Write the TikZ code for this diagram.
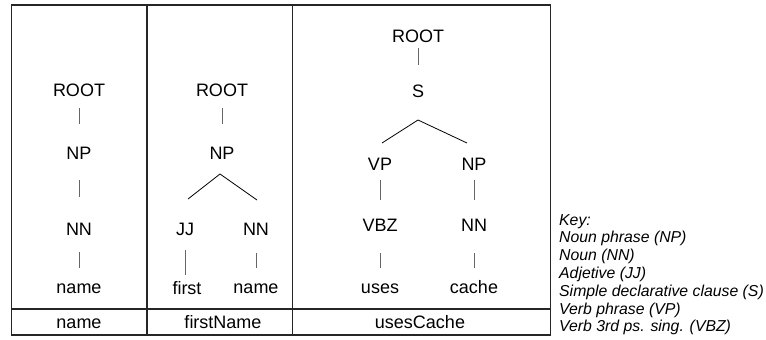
\documentclass[tikz,border=0pt]{standalone}
\usepackage{fontspec}
\setmainfont{Liberation Sans}
\usetikzlibrary{calc}
\begin{document}
\begin{tikzpicture}[x=1pt,y=-1pt,
  lbl/.style={anchor=base, inner sep=0pt, font=\fontsize{18}{20}\selectfont},
  keyline/.style={anchor=base west, inner sep=0pt, font=\fontsize{15.8}{17}\selectfont\itshape},
  frame/.style={draw=black!85, line width=1.2pt},
  stem/.style={draw=black!60, line width=0.9pt},
  branch/.style={draw=black, line width=0.8pt}]
\useasboundingbox (0,0) rectangle (766,340);

% table frame: three columns, a word row at the bottom
\draw[frame] (11.5,5) rectangle (550.5,335);
\draw[frame] (147,5) -- (147,335);
\draw[frame] (292.5,5) -- (292.5,335);
\draw[frame] (11.5,309) -- (550.5,309);

% column 1: name
\node[lbl] (r1)  at (79,96.5) {ROOT};
\node[lbl] (np1) at (79,159)  {NP};
\node[lbl] (nn1) at (79,235)  {NN};
\node[lbl] (w1)  at (79,293)  {name};
\node[lbl] (t1)  at (79,328)  {name};
\draw[stem] ($(r1.base)+(0,11.5)$) -- ($(r1.base |- np1.base)+(0,-35)$);
\draw[stem] ($(np1.base)+(0,21)$) -- ($(np1.base |- nn1.base)+(0,-38)$);
\draw[stem] ($(nn1.base)+(0,17)$) -- ($(nn1.base |- w1.base)+(0,-25)$);

% column 2: firstName
\node[lbl] (r2)  at (222,96.5) {ROOT};
\node[lbl] (np2) at (222,159)  {NP};
\node[lbl] (jj2) at (185,235)  {JJ};
\node[lbl] (nn2) at (256,235)  {NN};
\node[lbl] (w2a) at (187,294)  {first};
\node[lbl] (w2b) at (256,293)  {name};
\node[lbl] (t2)  at (223,328)  {firstName};
\draw[stem] ($(r2.base)+(0,11.5)$) -- ($(r2.base |- np2.base)+(0,-35)$);
\draw[branch] ($(jj2.base)+(3,-36)$) -- ($(np2.base)+(-2,15)$) -- ($(nn2.base)+(1,-35)$);
\draw[stem] ($(jj2.base)+(0,15)$) -- ($(jj2.base |- w2a.base)+(0,-19)$);
\draw[stem] ($(nn2.base)+(0,18)$) -- ($(nn2.base |- w2b.base)+(0,-25)$);

% column 3: usesCache
\node[lbl] (r3)   at (418,42)  {ROOT};
\node[lbl] (s3)   at (418,97)  {S};
\node[lbl] (vp3)  at (380,170) {VP};
\node[lbl] (np3)  at (474,170) {NP};
\node[lbl] (vbz3) at (380,231) {VBZ};
\node[lbl] (nn3)  at (474,231) {NN};
\node[lbl] (w3a)  at (380,293) {uses};
\node[lbl] (w3b)  at (474,293) {cache};
\node[lbl] (t3)   at (420,328) {usesCache};
\draw[stem] ($(r3.base)+(0,6)$) -- ($(r3.base |- s3.base)+(0,-32)$);
\draw[branch] ($(vp3.base)+(2,-27)$) -- ($(s3.base)+(0,23)$) -- ($(np3.base)+(-7,-27)$);
\draw[stem] ($(vp3.base)+(0,10)$) -- ($(vp3.base |- vbz3.base)+(0,-31)$);
\draw[stem] ($(np3.base)+(0,10)$) -- ($(np3.base |- nn3.base)+(0,-31)$);
\draw[stem] ($(vbz3.base)+(0,22)$) -- ($(vbz3.base |- w3a.base)+(0,-25)$);
\draw[stem] ($(nn3.base)+(0,22)$) -- ($(nn3.base |- w3b.base)+(0,-25)$);

% key
\foreach \txt [count=\i from 0] in {Key:, Noun phrase (NP), Noun (NN), Adjetive (JJ),
    Simple declarative clause (S), Verb phrase (VP), Verb 3rd ps. sing. (VBZ)}
  \node[keyline] (key\i) at (559,225+17.8*\i) {\txt};
\end{tikzpicture}
\end{document}
